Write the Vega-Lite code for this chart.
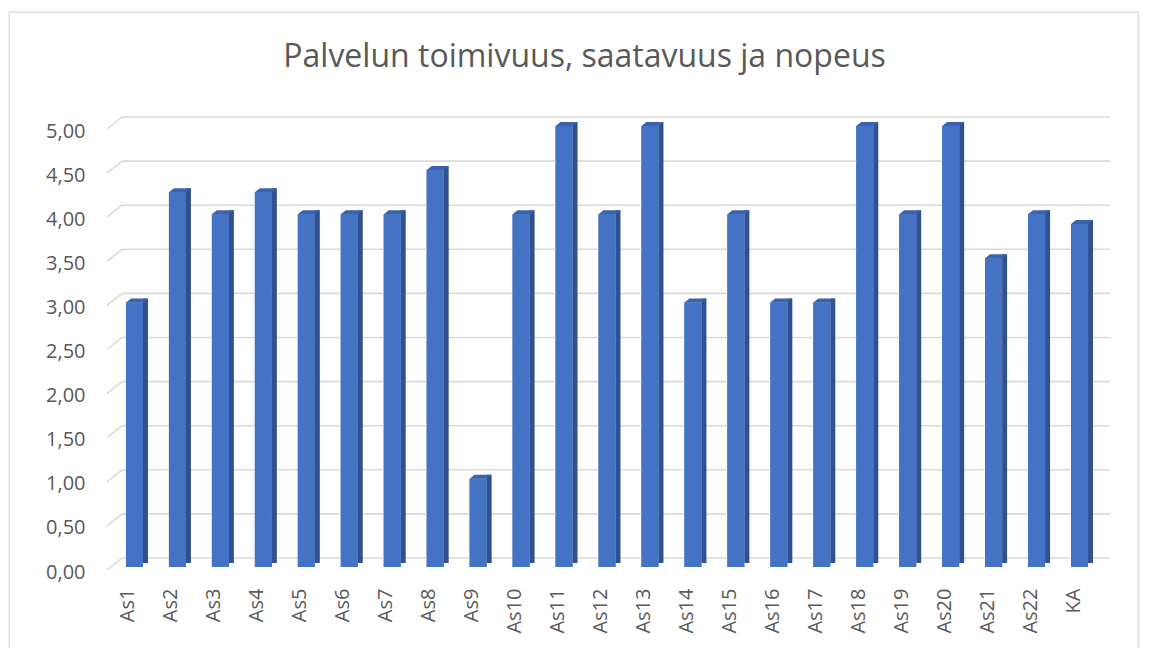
{
  "$schema": "https://vega.github.io/schema/vega-lite/v6.json",
  "width": 1129,
  "height": 640,
  "autosize": {"type": "none"},
  "padding": {"left": 9, "top": 12, "right": 11, "bottom": 0},
  "title": {
    "text": "Palvelun toimivuus, saatavuus ja nopeus",
    "font": "Open Sans",
    "fontSize": 32,
    "fontWeight": "normal",
    "color": "#595959",
    "anchor": "middle",
    "baseline": "alphabetic",
    "offset": -87,
    "dx": 11
  },
  "config": {
    "view": {"stroke": "#D9D9D9", "strokeWidth": 1.3},
    "font": "Open Sans"
  },
  "datasets": {
    "bars": [
      {"cat": "As1", "v": 3},
      {"cat": "As2", "v": 4.25},
      {"cat": "As3", "v": 4},
      {"cat": "As4", "v": 4.25},
      {"cat": "As5", "v": 4},
      {"cat": "As6", "v": 4},
      {"cat": "As7", "v": 4},
      {"cat": "As8", "v": 4.5},
      {"cat": "As9", "v": 1},
      {"cat": "As10", "v": 4},
      {"cat": "As11", "v": 5},
      {"cat": "As12", "v": 4},
      {"cat": "As13", "v": 5},
      {"cat": "As14", "v": 3},
      {"cat": "As15", "v": 4},
      {"cat": "As16", "v": 3},
      {"cat": "As17", "v": 3},
      {"cat": "As18", "v": 5},
      {"cat": "As19", "v": 4},
      {"cat": "As20", "v": 5},
      {"cat": "As21", "v": 3.5},
      {"cat": "As22", "v": 4},
      {"cat": "KA", "v": 3.89}
    ],
    "grid": [
      {"g": 0}, {"g": 0.5}, {"g": 1}, {"g": 1.5}, {"g": 2}, {"g": 2.5},
      {"g": 3}, {"g": 3.5}, {"g": 4}, {"g": 4.5}, {"g": 5}
    ]
  },
  "layer": [
    {
      "data": {"name": "bars"},
      "mark": {"type": "bar", "color": "#4472C4", "width": 17, "xOffset": 6},
      "encoding": {
        "x": {
          "field": "cat",
          "type": "nominal",
          "sort": null,
          "scale": {
            "domain": ["As1","As2","As3","As4","As5","As6","As7","As8","As9","As10","As11","As12","As13","As14","As15","As16","As17","As18","As19","As20","As21","As22","KA"],
            "range": [98, 1086],
            "paddingInner": 0,
            "paddingOuter": 0
          },
          "axis": {
            "title": null,
            "orient": "bottom",
            "offset": -64,
            "labelAngle": -90,
            "labelPadding": 0,
            "ticks": false,
            "domain": false,
            "grid": false,
            "labelFont": "Open Sans",
            "labelFontSize": 20,
            "labelColor": "#595959"
          }
        },
        "y": {
          "field": "v",
          "type": "quantitative",
          "scale": {"domain": [0, 5], "range": [555, 114], "nice": false, "zero": true},
          "axis": {
            "title": null,
            "orient": "left",
            "offset": -76,
            "values": [0, 0.5, 1, 1.5, 2, 2.5, 3, 3.5, 4, 4.5, 5],
            "labelExpr": "replace(format(datum.value, '.2f'), '.', ',')",
            "labelPadding": 0,
            "labelOffset": 5,
            "ticks": false,
            "domain": false,
            "grid": false,
            "labelFont": "Open Sans",
            "labelFontSize": 20,
            "labelColor": "#595959"
          }
        }
      }
    },
    {
      "data": {"name": "grid"},
      "mark": {"type": "rule", "color": "#D9D9D9", "strokeWidth": 1.6, "xOffset": 15, "x2Offset": 15, "yOffset": -9},
      "encoding": {
        "x": {"datum": "As1", "type": "nominal", "bandPosition": 0},
        "x2": {"datum": "KA", "bandPosition": 1},
        "y": {"field": "g", "type": "quantitative"}
      }
    },
    {
      "data": {"name": "grid"},
      "mark": {"type": "rule", "color": "#D9D9D9", "strokeWidth": 1.6, "xOffset": 0, "x2Offset": 15, "yOffset": 3, "y2Offset": -9},
      "encoding": {
        "x": {"datum": "As1", "type": "nominal", "bandPosition": 0},
        "x2": {"datum": "As1", "bandPosition": 0},
        "y": {"field": "g", "type": "quantitative"},
        "y2": {"field": "g"}
      }
    },
    {
      "data": {"name": "bars"},
      "mark": {"type": "bar", "color": "#2F528F", "width": 5, "xOffset": 17, "yOffset": -4, "y2Offset": -2},
      "encoding": {
        "x": {"field": "cat", "type": "nominal"},
        "y": {"field": "v", "type": "quantitative"}
      }
    },
    {
      "data": {"name": "bars"},
      "mark": {"type": "bar", "color": "#4472C4", "width": 17, "xOffset": 6},
      "encoding": {
        "x": {"field": "cat", "type": "nominal"},
        "y": {"field": "v", "type": "quantitative"}
      }
    },
    {
      "data": {"name": "bars"},
      "mark": {"type": "point", "shape": "M-0.85,0L0.85,0L1.35,-0.4L-0.35,-0.4Z", "size": 400, "filled": true, "opacity": 1, "color": "#3A62AE", "strokeWidth": 0, "xOffset": 6},
      "encoding": {
        "x": {"field": "cat", "type": "nominal"},
        "y": {"field": "v", "type": "quantitative"}
      }
    }
  ]
}
